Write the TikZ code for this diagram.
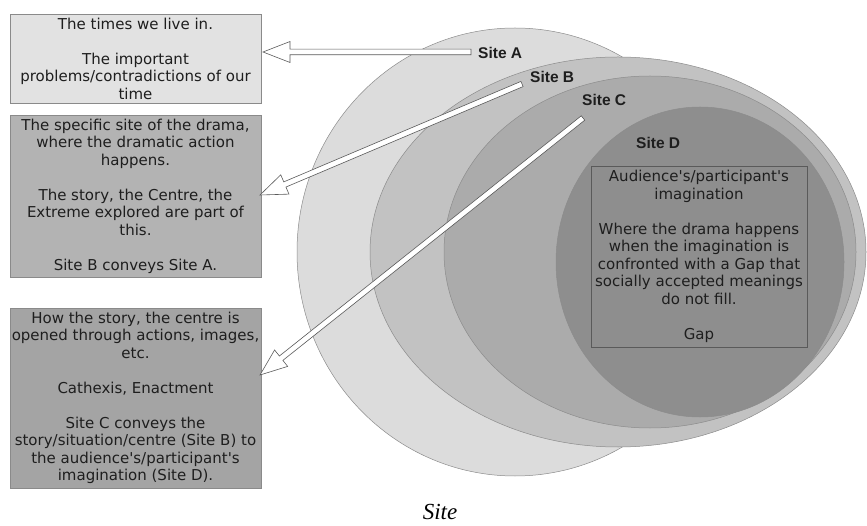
\documentclass[tikz,border=0pt]{standalone}
\usepackage{fontspec}
\setmainfont{DejaVu Sans}[Ligatures=TeXOff]
\newfontfamily\labfont{Liberation Sans}
\newfontfamily\capfont{Liberation Serif}
\usetikzlibrary{calc}
\definecolor{cA}{HTML}{DCDCDC}
\definecolor{cB}{HTML}{C2C2C2}
\definecolor{cC}{HTML}{ABABAB}
\definecolor{cD}{HTML}{8E8E8E}
\definecolor{bx1}{HTML}{E2E2E2}
\definecolor{bx2}{HTML}{B3B3B3}
\definecolor{bx3}{HTML}{A4A4A4}
\definecolor{boxline}{HTML}{8A8A8A}
\definecolor{diskline}{HTML}{8C8C8C}
\definecolor{arrowline}{HTML}{5A5A5A}
\definecolor{txtc}{HTML}{1E1E1E}
\tikzset{
  txt/.style={font=\fontsize{15}{17.5}\selectfont, text=txtc, align=center},
  infobox/.style={draw=boxline, line width=0.7pt, txt, inner sep=0pt, minimum width=251pt},
  sitelabel/.style={font=\labfont\bfseries\fontsize{15.5}{18}\selectfont, text=txtc, anchor=west, inner sep=0pt},
  disk/.style={draw=diskline, line width=0.5pt},
  blk/.style={draw=arrowline, fill=white, line width=0.6pt, line join=miter}
}
\newcommand\blockarrow[2]{%
  \coordinate (#1b) at ($(#2)!27pt!(#1)$);
  \draw[blk] ($(#1)!2.8pt!90:(#2)$) -- ($(#1b)!2.8pt!90:(#2)$) -- ($(#1b)!10.5pt!90:(#2)$)
    -- (#2) -- ($(#1b)!10.5pt!-90:(#2)$) -- ($(#1b)!2.8pt!-90:(#2)$) -- ($(#1)!2.8pt!-90:(#2)$) -- cycle;
}
\begin{document}
\begin{tikzpicture}[x=1pt,y=-1pt]
\useasboundingbox[fill=white] (0,0) rectangle (867,526);
% nested sites
\path[disk, fill=cA] (515,252) ellipse [x radius=218pt, y radius=224pt];
\path[disk, fill=cB] (618,252) ellipse [x radius=248pt, y radius=195pt];
\path[disk, fill=cC] (650,252) ellipse [x radius=206pt, y radius=176pt];
\path[disk, fill=cD] (700,262) ellipse [x radius=144pt, y radius=155pt];
% boxes
\node[infobox, fill=bx1, minimum height=89pt] (box1) at (135.5,58.5)
  {The times we live in.\\[17.5pt]The important\\problems/contradictions of our\\time};
\node[infobox, fill=bx2, minimum height=162pt] (box2) at (135.5,196)
  {The specific site of the drama,\\where the dramatic action\\happens.\\[17.5pt]The story, the Centre, the\\Extreme explored are part of\\this.\\[17.5pt]Site B conveys Site A.};
\node[infobox, fill=bx3, minimum height=180pt] (box3) at (135.5,398)
  {How the story, the centre is\\opened through actions, images,\\etc.\\[17.5pt]Cathexis, Enactment\\[17.5pt]Site C conveys the\\story/situation/centre (Site B) to\\the audience's/participant's\\imagination (Site D).};
\node[draw=arrowline, line width=0.6pt, txt, inner sep=0pt, minimum width=216pt, minimum height=181pt] (gap) at (699,256.5)
  {Audience's/participant's\\imagination\\[17.5pt]Where the drama happens\\when the imagination is\\confronted with a Gap that\\socially accepted meanings\\do not fill.\\[17.5pt]Gap};
% labels
\node[sitelabel] (siteA) at (478,53) {Site A};
\node[sitelabel] (siteB) at (530,77) {Site B};
\node[sitelabel] (siteC) at (582,100) {Site C};
\node[sitelabel] (siteD) at (636,143) {Site D};
% arrows
\coordinate (tA) at (471,52);
\coordinate (hA) at (263,52);
\coordinate (tB) at (522,84);
\coordinate (hB) at (260,195);
\coordinate (tC) at (583,118);
\coordinate (hC) at (260,375);
\blockarrow{tA}{hA}
\blockarrow{tB}{hB}
\blockarrow{tC}{hC}
% caption
\node[font=\capfont\itshape\fontsize{23}{27}\selectfont, anchor=base, inner sep=0pt] (cap) at (440,519) {Site};
\end{tikzpicture}
\end{document}
